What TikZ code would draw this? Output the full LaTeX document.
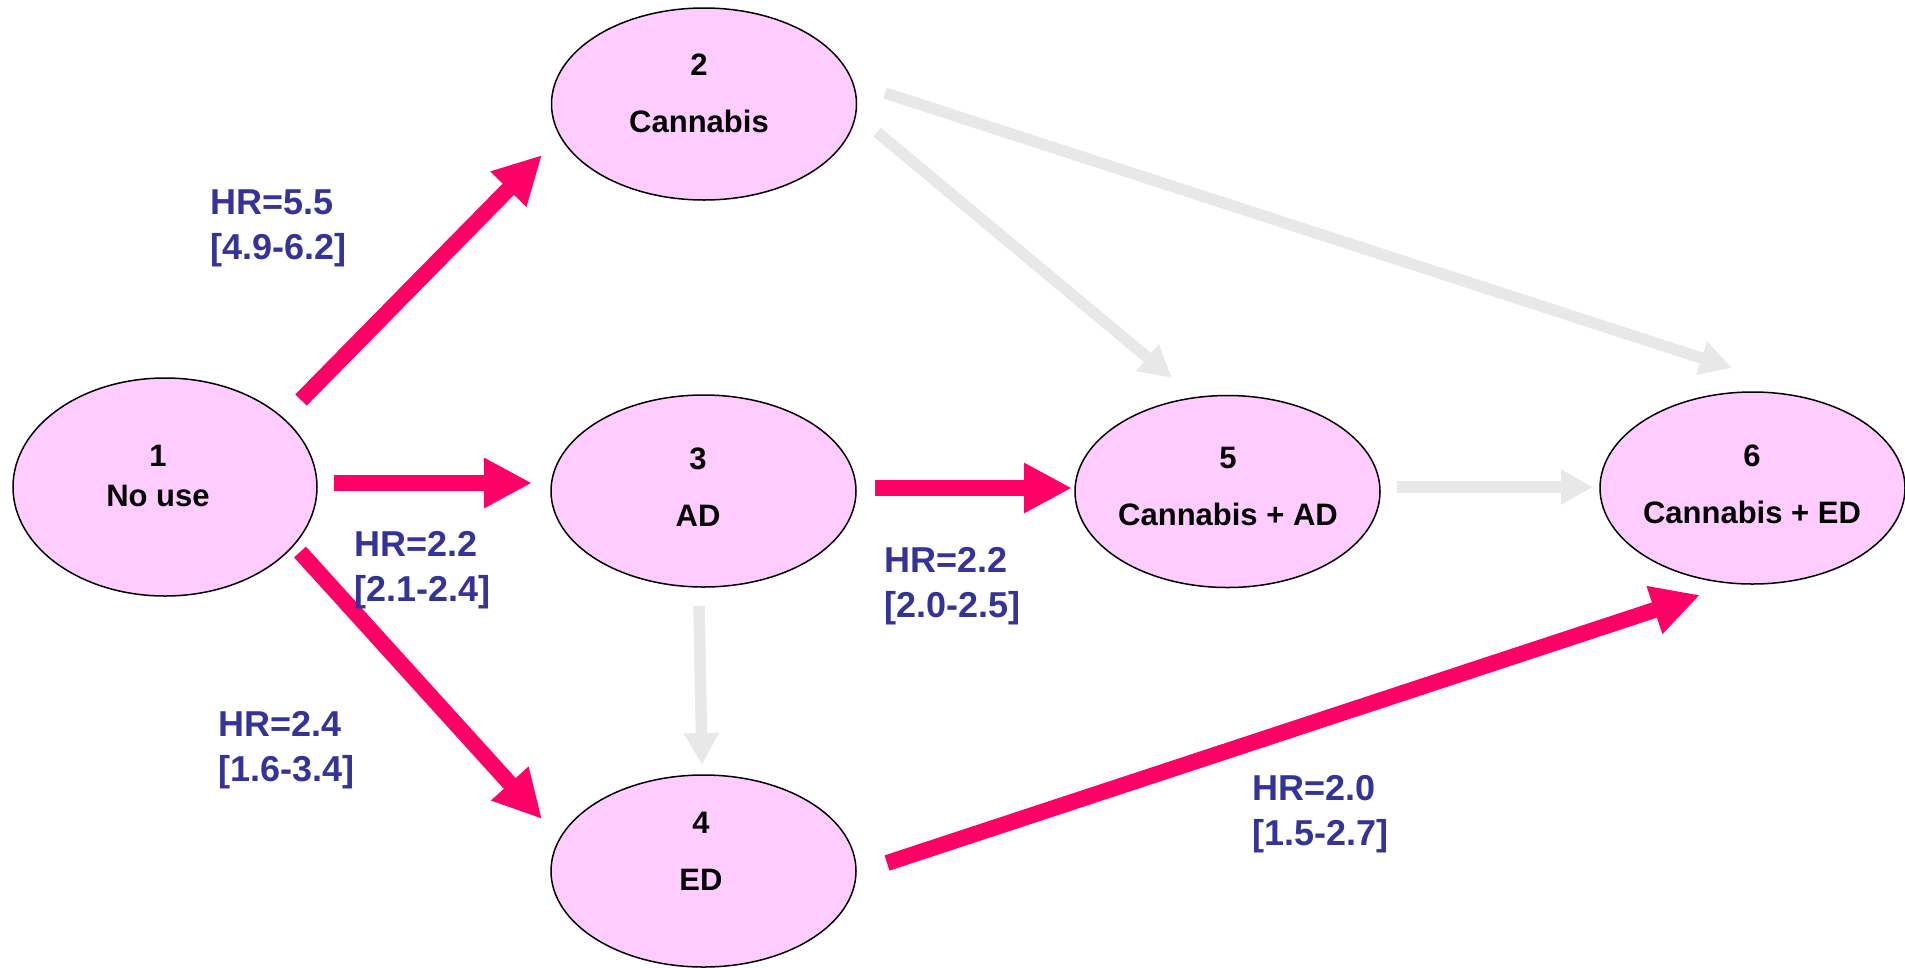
\documentclass[tikz,border=0pt]{standalone}
\usepackage{fontspec}
\setmainfont{Liberation Sans}[BoldFont={Liberation Sans Bold}]
\usetikzlibrary{arrows.meta,shapes.geometric}
\definecolor{statefill}{HTML}{FFCCFF}
\definecolor{hotpink}{HTML}{FF0066}
\definecolor{paleline}{HTML}{E8E8E8}
\definecolor{hrblue}{HTML}{333399}
\begin{document}
\begin{tikzpicture}[x=1pt,y=-1pt,
  state/.style={ellipse,draw=black,line width=1.5pt,fill=statefill,inner sep=0pt,
    minimum width=305pt,minimum height=192pt},
  statetext/.style={align=center,inner sep=0pt,font=\fontsize{31}{57}\selectfont\bfseries},
  hr/.style={align=left,anchor=north west,inner sep=0pt,text=hrblue,
    font=\fontsize{36}{45}\selectfont\bfseries},
  strong/.style={draw=hotpink,line width=16pt,
    -{Triangle[length=48pt,width=47pt]},fill=hotpink},
  weak/.style={draw=paleline,line width=11.5pt,
    -{Triangle[length=32pt,width=33pt]},fill=paleline}]
\useasboundingbox (0,0) rectangle (1905,967);

% states
\node[state,minimum width=304pt,minimum height=218pt] (n1) at (165,487) {};
\node[state] (n2) at (704,104) {};
\node[state] (n3) at (703.5,491) {};
\node[state] (n4) at (703.5,871) {};
\node[state] (n5) at (1227.5,491.5) {};
\node[state] (n6) at (1752.5,488) {};

\node[statetext,font=\fontsize{31}{40}\selectfont\bfseries] (t1) at (158,476) {1\\No use};
\node[statetext] (t2) at (699,93) {2\\Cannabis};
\node[statetext] (t3) at (698,487) {3\\AD};
\node[statetext] (t4) at (701,851) {4\\ED};
\node[statetext] (t5) at (1228,486) {5\\Cannabis + AD};
\node[statetext] (t6) at (1752,484) {6\\Cannabis + ED};

% minor transitions
\draw[weak] ([shift={(181,-11)}]n2.center) -- ([shift={(-20.5,-120)}]n6.center);
\draw[weak] ([shift={(173,28)}]n2.center) -- ([shift={(-55.5,-113.5)}]n5.center);
\draw[weak] ([shift={(-4.5,115)}]n3.center) -- ([shift={(-1.5,-106)}]n4.center);
\draw[weak] ([shift={(169.5,-4.5)}]n5.center) -- ([shift={(-159.5,-1)}]n6.center);

% significant transitions
\draw[strong] ([shift={(136,-87)}]n1.center) -- ([shift={(-162,51)}]n2.center);
\draw[strong] ([shift={(169,-4)}]n1.center) -- ([shift={(-171.5,-8)}]n3.center);
\draw[strong] ([shift={(135,65)}]n1.center) -- ([shift={(-161.5,-52)}]n4.center);
\draw[strong] ([shift={(171.5,-3)}]n3.center) -- ([shift={(-155.5,-3.5)}]n5.center);
\draw[strong] ([shift={(183.5,-8)}]n4.center) -- ([shift={(-52.5,107)}]n6.center);

% hazard ratios
\node[hr] (h12) at (210,189.5) {HR=5.5\\{}[4.9-6.2]};
\node[hr] (h13) at (354,531.5) {HR=2.2\\{}[2.1-2.4]};
\node[hr] (h14) at (218,711.5) {HR=2.4\\{}[1.6-3.4]};
\node[hr] (h35) at (884,547.5) {HR=2.2\\{}[2.0-2.5]};
\node[hr] (h46) at (1252,775) {HR=2.0\\{}[1.5-2.7]};
\end{tikzpicture}
\end{document}
